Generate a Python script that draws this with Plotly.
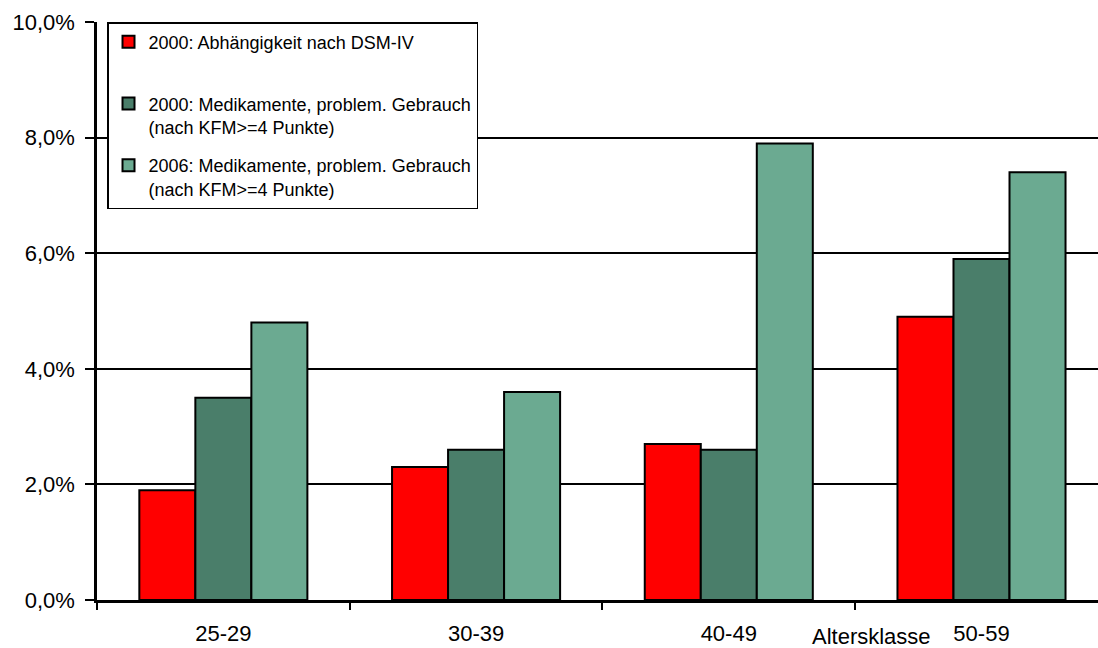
import plotly.graph_objects as go

categories = ["25-29", "30-39", "40-49", "50-59"]
dsm_2000 = [0.019, 0.023, 0.027, 0.049]
med_2000 = [0.035, 0.026, 0.026, 0.059]
med_2006 = [0.048, 0.036, 0.079, 0.074]
series_names = [
    "2000: Abhängigkeit nach DSM-IV<br> ",
    "2000: Medikamente, problem. Gebrauch<br>(nach KFM>=4 Punkte)",
    "2006: Medikamente, problem. Gebrauch<br>(nach KFM>=4 Punkte)",
]
colors = ["#FF0000", "#4A7E6A", "#6BAA91"]
ytick_vals = [0, 0.02, 0.04, 0.06, 0.08, 0.10]

FONT = "Arial, Liberation Sans, sans-serif"

fig = go.Figure()
for i, (vals, name) in enumerate(zip([dsm_2000, med_2000, med_2006], series_names)):
    fig.add_trace(go.Bar(
        x=categories, y=vals, name=name, legendgroup=f"g{i}",
        marker=dict(color=colors[i], line=dict(color="black", width=2)),
    ))

fig.update_layout(
    width=1098, height=648,
    margin=dict(l=97, r=0, t=22, b=48),
    paper_bgcolor="white", plot_bgcolor="white",
    separators=",.",
    barmode="group", bargap=0.335, bargroupgap=0,
    font=dict(family=FONT, size=22, color="black"),
    showlegend=True,
    legend=dict(
        x=0.01, y=1, xanchor="left", yanchor="top",
        bgcolor="white", bordercolor="black", borderwidth=1.5,
        font=dict(family=FONT, size=18, color="black"),
        valign="top", tracegroupgap=12, traceorder="grouped",
    ),
    xaxis=dict(
        range=[-0.5, 3.461], showline=True, linecolor="black", linewidth=3,
        ticks="outside", tickson="boundaries", ticklen=7, tickwidth=2, tickcolor="black",
        showgrid=False, ticklabelstandoff=12,
        tickfont=dict(family=FONT, size=22, color="black"),
    ),
    yaxis=dict(
        range=[0, 0.1], tickvals=ytick_vals, tickformat=".1%",
        showline=True, linecolor="black", linewidth=2.5,
        ticks="outside", ticklen=9, tickwidth=2, tickcolor="black",
        showgrid=True, gridcolor="black", gridwidth=1.5, zeroline=False,
        ticklabelstandoff=6,
        tickfont=dict(family=FONT, size=22, color="black"),
    ),
    annotations=[dict(
        text="Altersklasse", xref="paper", yref="paper",
        x=0.774, y=-0.064, xanchor="center", yanchor="middle",
        showarrow=False, font=dict(family=FONT, size=22, color="black"),
    )],
)

fig.write_html("out.html")
